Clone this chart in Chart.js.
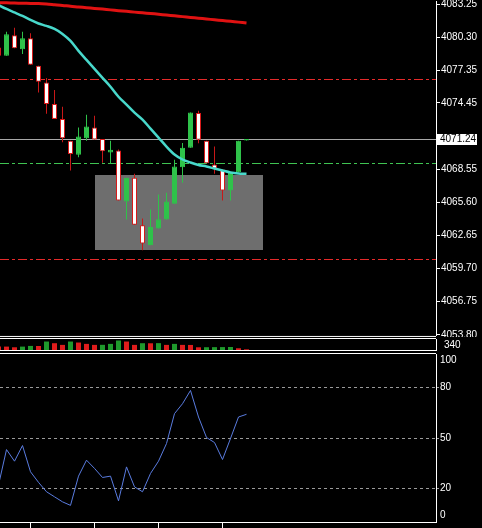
<!doctype html>
<html>
<head>
<meta charset="utf-8">
<title>US500 M5</title>
<script src="https://cdn.jsdelivr.net/npm/chart.js@4.4.1/dist/chart.umd.min.js"></script>
<style>
  html, body { margin: 0; padding: 0; background: #000; }
  #wrap { position: relative; width: 482px; height: 528px; overflow: hidden; background: #000; }
  #wrap canvas { position: absolute; left: 0; }
</style>
</head>
<body>
<div id="wrap">
  <canvas id="price" width="482" height="337" style="top:0;width:482px;height:337px"></canvas>
  <canvas id="vol" width="482" height="15" style="top:337px;width:482px;height:15px"></canvas>
  <canvas id="rsi" width="482" height="176" style="top:352px;width:482px;height:176px"></canvas>
</div>
<script>
// bar numbers, -1 is the half hidden bar at the left edge
var barNo = [-1,0,1,2,3,4,5,6,7,8,9,10,11,12,13,14,15,16,17,18,19,20,21,22,23,24,25,26,27,28,29,30];

var opens  = [4079.37,4078.64,4080.47,4079.23,4080.21,4077.75,4076.27,4074.35,4073.02,4071.09,4069.83,4071.30,4072.27,4071.24,4070.03,4070.21,
              4065.68,4067.78,4063.55,4061.78,4063.26,4064.06,4065.48,4068.73,4070.45,4073.55,4071.09,4068.96,4068.52,4066.66,4068.28,4071.10];
var highs  = [4079.55,4080.79,4081.15,4080.79,4080.65,4077.75,4076.66,4075.59,4074.11,4071.09,4072.27,4073.40,4073.31,4071.24,4071.09,4070.30,
              4067.78,4068.14,4064.15,4064.97,4066.30,4066.45,4069.38,4070.89,4073.60,4073.76,4071.09,4070.56,4068.52,4068.28,4071.09,4071.24];
var lows   = [4078.50,4078.64,4079.32,4078.81,4077.84,4075.38,4073.49,4073.02,4070.94,4068.43,4069.61,4071.09,4071.18,4069.12,4069.03,4065.77,
              4064.06,4063.61,4061.33,4061.78,4063.26,4064.06,4065.48,4067.34,4070.45,4070.85,4069.08,4068.14,4065.77,4065.77,4068.28,4071.10];
var closes = [4078.64,4080.56,4079.32,4080.21,4077.84,4076.33,4074.35,4073.02,4071.30,4069.91,4071.45,4072.34,4071.18,4070.14,4070.27,4065.77,
              4067.78,4063.61,4061.93,4063.40,4064.08,4065.68,4068.79,4070.45,4073.60,4071.16,4069.08,4068.58,4066.66,4068.28,4071.09,4071.24];

var maSlow = [4083.37,4083.36,4083.34,4083.32,4083.30,4083.29,4083.25,4083.19,4083.13,4083.05,4082.99,4082.92,4082.86,4082.80,4082.73,4082.66,
              4082.60,4082.53,4082.47,4082.41,4082.34,4082.27,4082.20,4082.13,4082.06,4081.99,4081.92,4081.85,4081.78,4081.71,4081.64,4081.56];
var maFast = [4083.16,4082.81,4082.50,4082.19,4081.83,4081.52,4081.30,4081.03,4080.59,4079.97,4079.08,4078.28,4077.48,4076.68,4075.89,4075.00,
              4074.29,4073.58,4072.96,4072.16,4071.36,4070.56,4069.85,4069.41,4069.14,4068.92,4068.79,4068.61,4068.43,4068.26,4068.17,4068.14];

var volumes = [112,105,84,105,126,124,262,210,158,262,231,189,158,160,189,294,262,158,210,208,212,158,189,158,156,84,86,88,90,92,53,21];
var rsiVals = [22.0,43.1,36.2,45.5,29.9,23.6,18.0,15.0,12.0,9.9,27.3,36.8,31.9,26.5,27.3,12.6,
               32.8,20.9,18.0,28.9,36.2,46.7,64.5,70.4,78.3,62.5,50.3,47.3,37.2,49.7,62.5,64.1];

var priceTicks = [4083.25,4080.30,4077.35,4074.45,4068.55,4065.60,4062.65,4059.70,4056.75,4053.80];
var levelPrices = [4076.62,4069.12,4060.58];
var zoneBars = [11,32];
var zonePrices = [4061.27,4067.99];
var volMax = 340;
var rsiRange = [0,100];
var rsiLevels = [80,50,20];
var timeTicks = [3,11,19,27];

var lastPrice = closes[closes.length-1];
var xMin = -0.8125, xMax = 53.6875;
// tiny lineHeight keeps the axis from padding the plot area for its end labels
var font = {family: 'Liberation Sans', size: 10, lineHeight: 0.01};
var lblFont = '10px "Liberation Sans"';

var up = closes.map(function(c,i){ return c >= opens[i]; });
var bodies = barNo.map(function(b,i){ return {x: b, y: [opens[i], closes[i]]}; });
var wicks = barNo.map(function(b,i){ return {x: b, y: [lows[i], highs[i]]}; });
var pts = function(arr){ return barNo.map(function(b,i){ return {x: b, y: arr[i]}; }); };

var priceDecor = {
  id: 'priceDecor',
  beforeDatasetsDraw: function(chart) {
    var ctx = chart.ctx, a = chart.chartArea, x = chart.scales.x, y = chart.scales.y;
    ctx.save();
    ctx.beginPath(); ctx.rect(a.left, a.top, a.right-a.left, a.bottom-a.top); ctx.clip();
    var x0 = x.getPixelForValue(zoneBars[0]), x1 = x.getPixelForValue(zoneBars[1]);
    var y0 = y.getPixelForValue(zonePrices[1]), y1 = y.getPixelForValue(zonePrices[0]);
    ctx.fillStyle = '#6e6e6e';
    ctx.fillRect(Math.round(x0), Math.round(y0), Math.round(x1-x0), Math.round(y1-y0));
    var cols = ['#e52a2a', '#3fc452', '#e52a2a'];
    ctx.lineWidth = 1;
    ctx.setLineDash([9,3,3,3]);
    levelPrices.forEach(function(p,i){
      var py = Math.round(y.getPixelForValue(p)) + 0.5;
      ctx.strokeStyle = cols[i];
      ctx.beginPath(); ctx.moveTo(a.left, py); ctx.lineTo(a.right, py); ctx.stroke();
    });
    ctx.setLineDash([]);
    var lp = Math.round(y.getPixelForValue(lastPrice)) + 0.5;
    ctx.strokeStyle = '#a8a8a8';
    ctx.beginPath(); ctx.moveTo(a.left, lp); ctx.lineTo(a.right, lp); ctx.stroke();
    ctx.restore();
  },
  afterDraw: function(chart) {
    var ctx = chart.ctx, a = chart.chartArea, y = chart.scales.y;
    ctx.save();
    ctx.strokeStyle = '#fff'; ctx.lineWidth = 1;
    ctx.beginPath(); ctx.moveTo(0, a.bottom+0.5); ctx.lineTo(a.right, a.bottom+0.5); ctx.stroke();
    var lp = Math.round(y.getPixelForValue(lastPrice));
    ctx.fillStyle = '#fff';
    ctx.fillRect(a.right+1, lp-5, 40, 11);
    ctx.fillStyle = '#000';
    ctx.font = lblFont; ctx.textBaseline = 'middle';
    ctx.fillText(lastPrice.toFixed(2), a.right+4, lp+0.5);
    ctx.restore();
  }
};

new Chart(document.getElementById('price'), {
  type: 'bar',
  data: {
    datasets: [
      {type: 'line', data: pts(maFast), borderColor: '#48d8cb', borderWidth: 2.5, pointRadius: 0, tension: 0.3},
      {type: 'line', data: pts(maSlow), borderColor: '#e01212', borderWidth: 3, pointRadius: 0, tension: 0.3},
      {data: bodies, grouped: false, barThickness: 5, borderWidth: 1, borderSkipped: false, inflateAmount: 0,
       backgroundColor: up.map(function(u){ return u ? '#2fc24a' : '#ffffff'; }),
       borderColor: up.map(function(u){ return u ? '#2fc24a' : '#d81a1a'; })},
      {data: wicks, grouped: false, barThickness: 1, borderWidth: 0, inflateAmount: 0,
       backgroundColor: up.map(function(u){ return u ? '#2fc24a' : '#c81818'; })}
    ]
  },
  options: {
    responsive: false, animation: false, devicePixelRatio: 1,
    layout: {padding: {top: 0, bottom: 1, left: 0, right: 0}, autoPadding: false},
    plugins: {legend: {display: false}, tooltip: {enabled: false}},
    scales: {
      x: {type: 'linear', min: xMin, max: xMax, display: false, offset: false},
      y: {position: 'right', min: 4053.702, max: 4083.516,
          afterFit: function(s){ s.width = 46; },
          afterBuildTicks: function(s){ s.ticks = priceTicks.map(function(v){ return {value: v}; }); },
          grid: {drawOnChartArea: false, color: '#fff', tickLength: 4},
          border: {color: '#fff'},
          ticks: {color: '#fff', font: font, padding: 1, autoSkip: false,
                  callback: function(v){ return Number(v).toFixed(2); }}}
    }
  },
  plugins: [priceDecor]
});

var volDecor = {
  id: 'volDecor',
  afterDraw: function(chart) {
    var ctx = chart.ctx, a = chart.chartArea;
    ctx.save();
    ctx.strokeStyle = '#fff'; ctx.lineWidth = 1;
    ctx.beginPath();
    ctx.moveTo(0, a.top-0.5); ctx.lineTo(a.right, a.top-0.5);
    ctx.moveTo(0, a.bottom+0.5); ctx.lineTo(a.right, a.bottom+0.5);
    ctx.stroke();
    ctx.fillStyle = '#fff'; ctx.font = lblFont; ctx.textBaseline = 'middle';
    ctx.fillText(String(volMax), a.right+8, (a.top+a.bottom)/2+1);
    ctx.restore();
  }
};

new Chart(document.getElementById('vol'), {
  type: 'bar',
  data: {
    datasets: [{
      data: pts(volumes), grouped: false, barThickness: 5, inflateAmount: 0,
      backgroundColor: volumes.map(function(v,i){ return i > 0 && v > volumes[i-1] ? '#1f9a2c' : '#e01c1c'; })
    }]
  },
  options: {
    responsive: false, animation: false, devicePixelRatio: 1,
    layout: {padding: {top: 2, bottom: 2, left: 0, right: 0}, autoPadding: false},
    plugins: {legend: {display: false}, tooltip: {enabled: false}},
    scales: {
      x: {type: 'linear', min: xMin, max: xMax, display: false, offset: false},
      y: {position: 'right', min: 0, max: volMax,
          afterFit: function(s){ s.width = 46; },
          grid: {display: false}, border: {color: '#fff'}, ticks: {display: false}}
    }
  },
  plugins: [volDecor]
});

var rsiDecor = {
  id: 'rsiDecor',
  afterDraw: function(chart) {
    var ctx = chart.ctx, a = chart.chartArea, y = chart.scales.y;
    ctx.save();
    ctx.strokeStyle = '#fff'; ctx.lineWidth = 1;
    ctx.beginPath(); ctx.moveTo(0, a.top-0.5); ctx.lineTo(a.right, a.top-0.5); ctx.stroke();
    ctx.fillStyle = '#fff'; ctx.font = lblFont; ctx.textBaseline = 'middle';
    ctx.fillText(String(rsiRange[1]), a.right+4, y.getPixelForValue(rsiRange[1])+6);
    ctx.fillText(String(rsiRange[0]), a.right+4, y.getPixelForValue(rsiRange[0])-7);
    ctx.restore();
  }
};

new Chart(document.getElementById('rsi'), {
  type: 'line',
  data: {
    datasets: [{data: pts(rsiVals), borderColor: '#5a7ce0', borderWidth: 1, pointRadius: 0, tension: 0}]
  },
  options: {
    responsive: false, animation: false, devicePixelRatio: 1,
    layout: {padding: {top: 2, bottom: 0, left: 0, right: 0}, autoPadding: false},
    plugins: {legend: {display: false}, tooltip: {enabled: false}},
    scales: {
      x: {type: 'linear', min: xMin, max: xMax, offset: false,
          afterFit: function(s){ s.height = 6; },
          afterBuildTicks: function(s){ s.ticks = timeTicks.map(function(v){ return {value: v}; }); },
          grid: {drawOnChartArea: false, color: '#fff', tickLength: 6},
          border: {color: '#fff'}, ticks: {display: false}},
      y: {position: 'right', min: rsiRange[0], max: rsiRange[1],
          afterFit: function(s){ s.width = 46; },
          afterBuildTicks: function(s){ s.ticks = rsiLevels.map(function(v){ return {value: v}; }); },
          grid: {color: '#9a9a9a', tickLength: 3, tickBorderDash: [3,3]},
          border: {color: '#fff', dash: [3,3]},
          ticks: {color: '#fff', font: font, padding: 1, autoSkip: false}}
    }
  },
  plugins: [rsiDecor]
});
</script>
</body>
</html>
